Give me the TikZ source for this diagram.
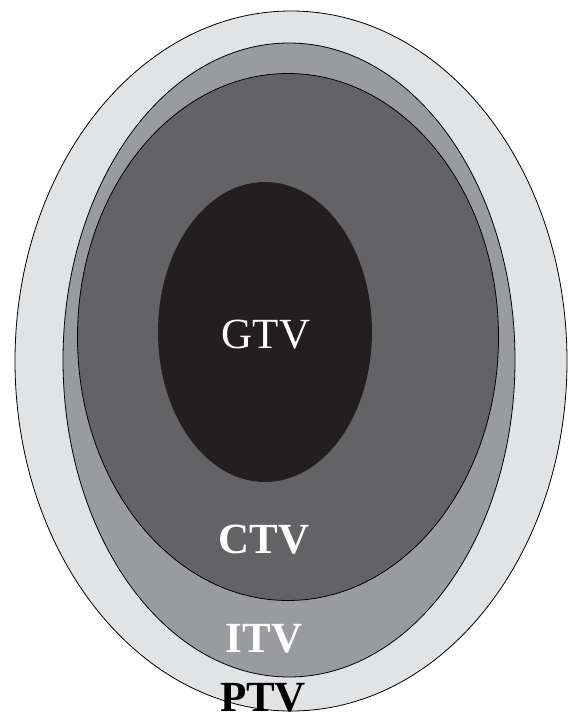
\documentclass[tikz,border=0pt]{standalone}
\usepackage{fontspec}
\setmainfont{Liberation Serif}
\usetikzlibrary{shapes.geometric}

\definecolor{ptvgray}{HTML}{E2E3E5}
\definecolor{itvgray}{HTML}{9A9B9F}
\definecolor{ctvgray}{HTML}{636365}
\definecolor{gtvgray}{HTML}{231F20}

\begin{document}
\begin{tikzpicture}[x=1pt, y=-1pt,
            vol/.style={draw=black, line width=0.8pt, ellipse, inner sep=0pt},
            lab/.style={anchor=base, inner sep=0pt,
                    font=\fontsize{43}{43}\selectfont}]
        \useasboundingbox (0,0) rectangle (568,718);
        % nested volumes, outer to inner
        \node[vol, fill=ptvgray, minimum width=552pt, minimum height=700pt] (ptv) at (291,361) {};
        \node[vol, fill=itvgray, minimum width=452pt, minimum height=634pt] (itv) at (289,360) {};
        \node[vol, fill=ctvgray, minimum width=421pt, minimum height=527pt] (ctv) at (288,337) {};
        \node[vol, draw=none, fill=gtvgray, minimum width=214pt, minimum height=300pt] (gtv) at (265,332) {};
        % labels
        \node[lab, text=white] (gtvlab) at (266,348) {GTV};
        \node[lab, text=white, font=\fontsize{43}{43}\selectfont\bfseries] (ctvlab) at (264,553) {CTV};
        \node[lab, text=white, font=\fontsize{43}{43}\selectfont\bfseries] (itvlab) at (264,652) {ITV};
        \node[lab, text=black, font=\fontsize{43}{43}\selectfont\bfseries] (ptvlab) at (263,711) {PTV};
    \end{tikzpicture}
\end{document}
